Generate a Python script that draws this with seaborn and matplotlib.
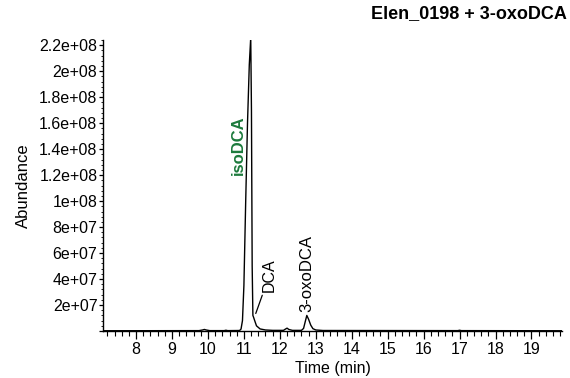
import matplotlib
matplotlib.use("Agg")
import matplotlib.pyplot as plt
from matplotlib.ticker import MultipleLocator, FuncFormatter
import seaborn as sns
import pandas as pd

# Total ion chromatogram, retention time (min) vs. abundance
time_min = [7.10, 9.75, 9.85, 9.90, 9.95, 10.05, 10.45, 10.50, 10.55, 10.88,
            10.92, 10.96, 11.00, 11.05, 11.10, 11.15, 11.19, 11.21, 11.23,
            11.25, 11.27, 11.30, 11.35, 11.45, 11.60, 11.80, 12.10, 12.15,
            12.20, 12.25, 12.35, 12.60, 12.66, 12.70, 12.75, 12.80, 12.86,
            12.92, 13.00, 13.20, 16.95, 17.00, 17.05, 19.90]
abundance = [2.0e5, 3.0e5, 8.0e5, 1.2e6, 8.0e5, 3.0e5, 3.0e5, 6.0e5, 3.0e5, 4.0e5,
             1.5e6, 8.0e6, 3.5e7, 1.0e8, 1.6e8, 2.05e8, 2.26e8, 1.7e8, 5.0e7,
             1.2e7, 1.05e7, 8.0e6, 4.0e6, 1.6e6, 8.0e5, 5.0e5, 5.0e5, 1.4e6,
             2.2e6, 1.2e6, 5.0e5, 5.0e5, 2.0e6, 6.5e6, 1.2e7, 9.0e6, 4.5e6,
             1.8e6, 8.0e5, 4.0e5, 3.0e5, 6.0e5, 3.0e5, 2.0e5]

peak_names = ["isoDCA", "DCA", "3-oxoDCA"]
peak_times = [11.19, 11.27, 12.75]

title = "Elen_0198 + 3-oxoDCA"

sns.set_style("ticks")
plt.rcParams["font.family"] = ["Liberation Sans", "DejaVu Sans"]
plt.rcParams["text.color"] = "black"
plt.rcParams["axes.labelcolor"] = "black"

df = pd.DataFrame({"Time (min)": time_min, "Abundance": abundance})

fig = plt.figure(figsize=(5.7, 3.78), dpi=100)
ax = fig.add_axes([0.1807, 0.1243, 0.8053, 0.7697])
sns.lineplot(data=df, x="Time (min)", y="Abundance", ax=ax,
             color="black", linewidth=1.0)

ax.set_xlim(7.08, 19.85)
ax.set_ylim(0, 2.24e8)

ax.xaxis.set_major_locator(MultipleLocator(1))
ax.xaxis.set_minor_locator(MultipleLocator(0.2))
ax.yaxis.set_major_locator(MultipleLocator(2e7))
ax.yaxis.set_minor_locator(MultipleLocator(4e6))


def sci(v, _):
    if v <= 0:
        return ""
    e = int(f"{v:.0e}".split("e")[1])
    mant = f"{v / 10 ** e:g}"
    return f"{mant}e+{e:02d}"


ax.yaxis.set_major_formatter(FuncFormatter(sci))
ax.tick_params(axis="both", which="major", labelsize=11.5, width=0.9,
               color="black", labelcolor="black")
ax.tick_params(axis="x", which="major", length=6, pad=2)
ax.tick_params(axis="x", which="minor", length=3.5, width=0.8, color="black")
ax.tick_params(axis="y", which="major", length=3, pad=1)
ax.tick_params(axis="y", which="minor", length=1.5, width=0.6, color="black")
for s in ["top", "right"]:
    ax.spines[s].set_visible(False)
for s in ["left", "bottom"]:
    ax.spines[s].set_linewidth(1.0)
    ax.spines[s].set_color("black")

ax.set_xlabel("Time (min)", fontsize=11.5, labelpad=3)
ax.set_ylabel("Abundance", fontsize=12, labelpad=6)

fig.text(0.995, 0.965, title, ha="right", va="center", fontsize=13,
         fontweight="bold")

# Peak labels
ax.text(peak_times[0] - 0.33, 1.43e8, peak_names[0], rotation=90,
        ha="center", va="center", fontsize=12, fontweight="bold",
        color="#1c7a3c")
ax.annotate(peak_names[1], xy=(peak_times[1] + 0.06, 1.35e7),
            xytext=(peak_times[1] + 0.44, 4.3e7), rotation=90,
            ha="center", va="center", fontsize=11.5,
            arrowprops=dict(arrowstyle="-", color="black", lw=0.9,
                            shrinkA=0, shrinkB=0))
ax.text(peak_times[2] + 0.01, 4.45e7, peak_names[2], rotation=90,
        ha="center", va="center", fontsize=12)

fig.savefig("out.png", dpi=100)
